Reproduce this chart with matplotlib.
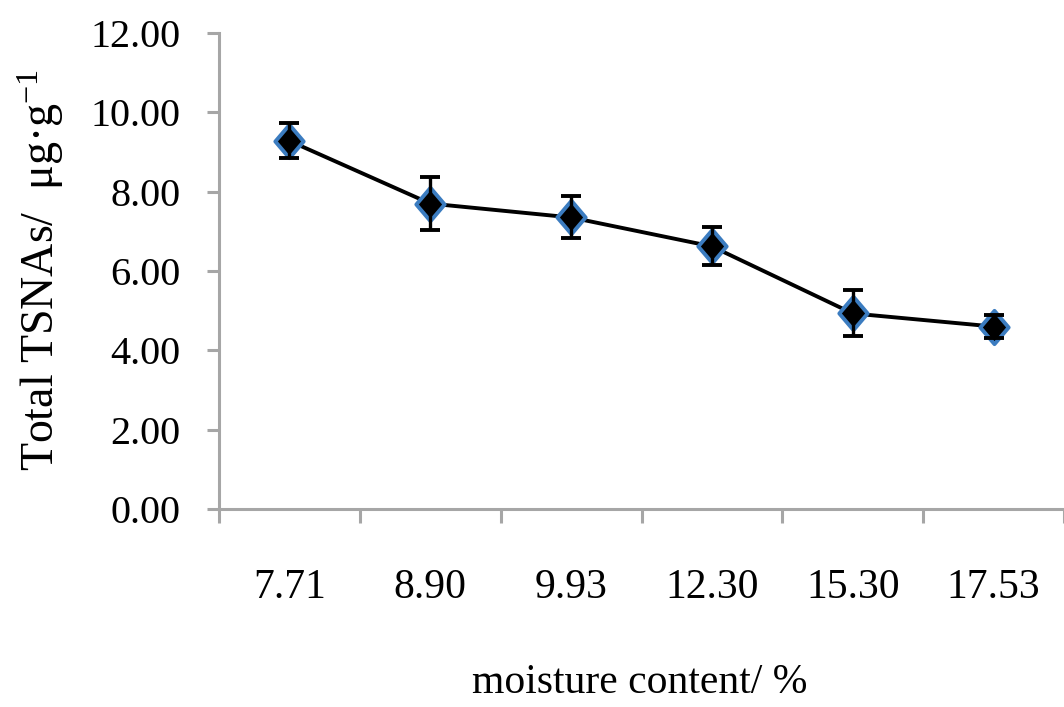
import matplotlib
matplotlib.use("Agg")
import matplotlib.pyplot as plt
import numpy as np
from matplotlib.path import Path

plt.rcParams['font.family'] = ['Liberation Serif', 'DejaVu Serif']
plt.rcParams['mathtext.fontset'] = 'custom'
plt.rcParams['mathtext.rm'] = 'Liberation Serif'
plt.rcParams['mathtext.it'] = 'Liberation Serif:italic'

categories = ["7.71", "8.90", "9.93", "12.30", "15.30", "17.53"]
tsnas = [9.28, 7.70, 7.35, 6.62, 4.93, 4.60]
errors = [0.44, 0.67, 0.53, 0.48, 0.58, 0.28]
y_ticks = [0, 2, 4, 6, 8, 10, 12]

fig = plt.figure(figsize=(10.64, 7.07), dpi=100)
ax = fig.add_axes([219/1064, 1-509/707, (1064-219)/1064, (509-33)/707])

x = np.arange(len(categories)) + 0.5
axis_gray = "#a6a6a6"
blue = "#3b7cc0"

diamond = Path([(0, 1), (0.85, 0), (0, -1), (-0.85, 0), (0, 1)],
               [Path.MOVETO, Path.LINETO, Path.LINETO, Path.LINETO, Path.CLOSEPOLY])

ax.plot(x, tsnas, color="black", lw=2.8, zorder=2, solid_capstyle='butt')
ax.plot(x, tsnas, linestyle='none', marker=diamond, markersize=24,
        markerfacecolor="black", markeredgecolor=blue, markeredgewidth=2.8, zorder=3)
ax.errorbar(x, tsnas, yerr=errors, fmt='none', ecolor="black", elinewidth=2.4,
            capsize=7, capthick=2.8, zorder=4)

ax.set_xlim(0, 845/142)
ax.set_ylim(0, 12)
ax.set_yticks(y_ticks)
ax.set_yticklabels([f"{v:.2f}" for v in y_ticks], fontsize=29)
ax.set_xticks(np.arange(0, 7))
ax.set_xticklabels([])
ax.set_xticks(x, minor=True)
ax.set_xticklabels(categories, minor=True, fontsize=30)

for s in ['top', 'right']:
    ax.spines[s].set_visible(False)
for s in ['left', 'bottom']:
    ax.spines[s].set_color(axis_gray)
    ax.spines[s].set_linewidth(2.2)

ax.tick_params(axis='y', which='major', direction='out', length=8.5, width=2.2,
               color=axis_gray, pad=19)
ax.tick_params(axis='x', which='major', direction='out', length=10, width=2.2,
               color=axis_gray)
ax.tick_params(axis='x', which='minor', length=0, pad=43)

fig.text(640/1064, 1-683/707, "moisture content/ %", fontsize=30,
         ha='center', va='center')
fig.text(41/1064, 1-270/707, r"Total TSNAs/  μg·g$^{-1}$", fontsize=33,
         rotation=90, ha='center', va='center')

fig.savefig("out.png", dpi=100)
